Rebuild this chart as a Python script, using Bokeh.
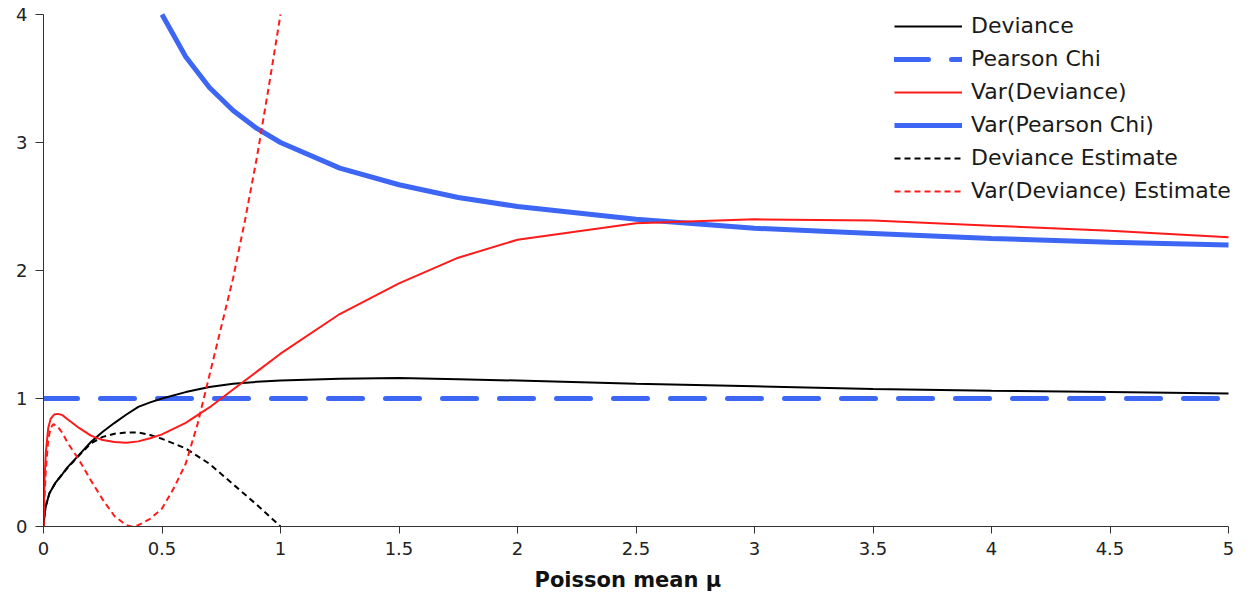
from bokeh.plotting import figure
from bokeh.models import Range1d, FixedTicker, Legend, LegendItem, Title
from bokeh.embed import file_html
from bokeh.resources import INLINE

# ---------------- data ----------------
dev_x = [0, 0.005, 0.01, 0.025, 0.05, 0.08, 0.1, 0.15, 0.2, 0.25, 0.3, 0.35, 0.4, 0.45,
         0.5, 0.6, 0.7, 0.8, 0.9, 1.0, 1.25, 1.5, 1.75, 2, 2.5, 3, 3.5, 4, 4.5, 5]
dev_y = [0, 0.1, 0.16, 0.26, 0.34, 0.41, 0.46, 0.56, 0.66, 0.74, 0.81, 0.875, 0.935, 0.97,
         1.0, 1.05, 1.09, 1.115, 1.13, 1.14, 1.155, 1.16, 1.15, 1.14, 1.115, 1.095, 1.075,
         1.06, 1.05, 1.04]

pearson_x = [0, 5]
pearson_y = [1, 1]

vardev_x = [0, 0.002, 0.005, 0.01, 0.02, 0.03, 0.045, 0.06, 0.08, 0.1, 0.15, 0.2, 0.25,
            0.3, 0.35, 0.4, 0.45, 0.5, 0.6, 0.7, 0.8, 0.9, 1.0, 1.25, 1.5, 1.75, 2, 2.5,
            3, 3.5, 4, 4.5, 5]
vardev_y = [0, 0.2, 0.4, 0.58, 0.77, 0.84, 0.875, 0.88, 0.87, 0.84, 0.77, 0.71, 0.675,
            0.66, 0.655, 0.665, 0.69, 0.72, 0.81, 0.93, 1.07, 1.21, 1.35, 1.66, 1.90,
            2.10, 2.24, 2.37, 2.40, 2.39, 2.35, 2.31, 2.26]

varpear_x = [0.5, 0.6, 0.7, 0.8, 0.9, 1.0, 1.25, 1.5, 1.75, 2, 2.5, 3, 3.5, 4, 4.5, 5]
varpear_y = [4.0, 3.67, 3.43, 3.25, 3.11, 3.0, 2.8, 2.67, 2.57, 2.5, 2.4, 2.33, 2.29,
             2.25, 2.22, 2.2]

devest_x = [0, 0.005, 0.01, 0.025, 0.05, 0.08, 0.1, 0.15, 0.2, 0.25, 0.3, 0.35, 0.4,
            0.45, 0.5, 0.6, 0.7, 0.8, 0.9, 1.0]
devest_y = [0, 0.1, 0.16, 0.26, 0.34, 0.41, 0.455, 0.555, 0.65, 0.70, 0.725, 0.735,
            0.735, 0.715, 0.685, 0.61, 0.49, 0.33, 0.17, 0.0]

vdest_x = [0, 0.005, 0.01, 0.02, 0.03, 0.042, 0.06, 0.08, 0.1, 0.15, 0.2, 0.25, 0.3,
           0.35, 0.37, 0.4, 0.45, 0.5, 0.55, 0.6, 0.65, 0.7, 0.75, 0.8, 0.85, 0.9, 0.95, 1.0]
vdest_y = [0, 0.25, 0.45, 0.68, 0.77, 0.80, 0.78, 0.73, 0.66, 0.52, 0.36, 0.21, 0.08,
           0.01, 0.0, 0.01, 0.06, 0.14, 0.30, 0.49, 0.80, 1.18, 1.56, 1.94, 2.39, 2.88,
           3.43, 4.0]

x_min, x_max = 0, 5
y_min, y_max = 0, 4
x_ticks = [0, 0.5, 1, 1.5, 2, 2.5, 3, 3.5, 4, 4.5, 5]
x_tick_labels = ["0", "0.5", "1", "1.5", "2", "2.5", "3", "3.5", "4", "4.5", "5"]
y_ticks = [0, 1, 2, 3, 4]
y_tick_labels = ["0", "1", "2", "3", "4"]
x_title = "Poisson mean μ"

series_names = ["Deviance", "Pearson Chi", "Var(Deviance)", "Var(Pearson Chi)",
                "Deviance Estimate", "Var(Deviance) Estimate"]

# ---------------- layout ----------------
W, H = 1249, 600
LEFT, BOTTOM = 43, 74          # frame borders
AX_RIGHT_PX, AX_TOP_PX = 1228, 14   # where x=5 and y=4 land on the page
frame_w = W - LEFT
frame_h = H - BOTTOM
# extend the ranges a little so the legend has room beyond the axes' ends
x_end = x_max * frame_w / (AX_RIGHT_PX - LEFT)
y_end = y_max * frame_h / (H - BOTTOM - AX_TOP_PX)

FONT = "DejaVu Sans"
BLUE = "#3d66f5"
RED = "#ff1a1a"

p = figure(width=W, height=H, output_backend="svg", toolbar_location=None,
           x_range=Range1d(x_min, x_end), y_range=Range1d(y_min, y_end),
           min_border_left=LEFT, min_border_right=0, min_border_top=0,
           min_border_bottom=BOTTOM)
p.outline_line_color = None
p.xgrid.visible = False
p.ygrid.visible = False
p.background_fill_color = "white"
p.border_fill_color = "white"

r_pear = p.line(pearson_x, pearson_y, line_color=BLUE, line_width=5,
                line_dash="34 23", line_cap="round")
r_vpear = p.line(varpear_x, varpear_y, line_color=BLUE, line_width=5)
r_dev = p.line(dev_x, dev_y, line_color="black", line_width=2)
r_devest = p.line(devest_x, devest_y, line_color="black", line_width=2, line_dash="6 4")
r_vdev = p.line(vardev_x, vardev_y, line_color=RED, line_width=2)
r_vdest = p.line(vdest_x, vdest_y, line_color=RED, line_width=2, line_dash="6 4")

renderers = [r_dev, r_pear, r_vdev, r_vpear, r_devest, r_vdest]
items = [LegendItem(label=n, renderers=[r]) for n, r in zip(series_names, renderers)]
legend = Legend(items=items, location=(851, 323), padding=0, margin=0,
                border_line_color=None, background_fill_alpha=0,
                glyph_width=68, glyph_height=20, label_height=20, label_standoff=9,
                spacing=8, label_text_font=FONT, label_text_font_size="22px",
                label_text_color="#1a1a1a")
p.add_layout(legend)

# axes
p.xaxis.ticker = FixedTicker(ticks=x_ticks)
p.xaxis.major_label_overrides = {t: l for t, l in zip(x_ticks, x_tick_labels)}
p.xaxis.bounds = (x_min, x_max)
p.yaxis.ticker = FixedTicker(ticks=y_ticks)
p.yaxis.major_label_overrides = {t: l for t, l in zip(y_ticks, y_tick_labels)}
p.yaxis.bounds = (y_min, y_max)
for ax in (p.xaxis, p.yaxis):
    ax.minor_tick_line_color = None
    ax.major_tick_in = 0
    ax.axis_line_color = "#333333"
    ax.major_tick_line_color = "#333333"
    ax.major_label_text_font = FONT
    ax.major_label_text_font_size = "18px"
    ax.major_label_text_color = "#222222"
    ax.major_label_standoff = 8
p.xaxis.major_tick_out = 7
p.yaxis.major_tick_out = 8

# x-axis title, placed under the drawn axis (which stops short of the frame edge)
p.add_layout(Title(text=x_title, align="left", offset=491,
                   text_font=FONT, text_font_style="bold", text_font_size="21px",
                   text_color="#111111", standoff=16), "below")

open("out.html", "w").write(file_html(p, INLINE))
